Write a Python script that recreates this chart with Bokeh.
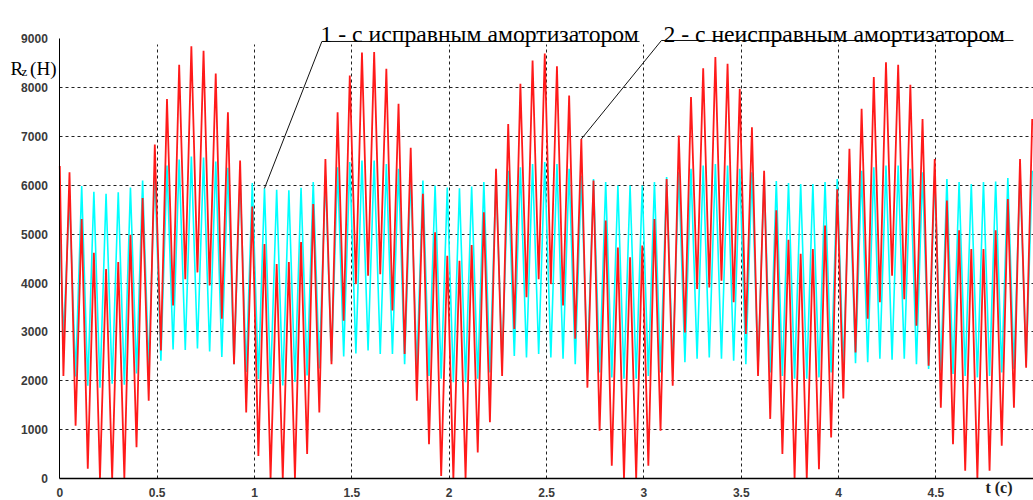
import numpy as np
from bokeh.plotting import figure
from bokeh.models import Range1d, FixedTicker, Label
from bokeh.embed import file_html
from bokeh.resources import INLINE

# ---- data (extremes of each oscillation cycle) ----
period = 0.06259          # s, one wheel-hop cycle
first_trough = 0.0185     # s

red_start = 6400
red_troughs = [2100, 1080, 200, 0, 0, 0, 640, 1590, 2620, 3540, 4080, 4220, 3950,
               3270, 2340, 1350, 460, 0, 0, 0, 500, 1350, 2340, 3230, 3980, 4150,
               4180, 3440, 2550, 1590, 700, 50, 0, 0, 530, 1150, 2100, 3060, 3710,
               4080, 3980, 3540, 2860, 1860, 980, 260, 0, 0, 260, 980, 1900, 2990,
               3880, 3910, 4050, 3610, 2960, 2100, 1220, 500, 0, 0, 190, 840, 1640,
               2580, 3270, 3610, 4150, 3670, 3130, 2310, 1450, 700, 160, 0, 160, 670, 1450, 2270]
red_peaks = [6270, 5310, 4620, 4290, 4430, 4990, 5740, 6840, 7770, 8470, 8850, 8760, 8290,
             7500, 6510, 5570, 4800, 4390, 4430, 4840, 5620, 6540, 7500, 8250, 8720, 8730,
             8390, 7670, 6770, 5830, 5040, 4560, 4460, 4780, 5450, 6340, 7260, 8080, 8560,
             8700, 8440, 7840, 6950, 6100, 5280, 4730, 4530, 4770, 5310, 6130, 7020, 7810,
             8400, 8630, 8490, 7980, 7190, 6300, 5490, 4890, 4600, 4700, 5180, 5920, 6750,
             7570, 8220, 8520, 8470, 8060, 7360, 6540, 5690, 5080, 4700, 4700, 5080, 5720, 6540, 7360]

cyan_start = 5200
cyan_troughs = [2870, 2090, 1900, 1860, 1940, 1920, 2150, 2250, 2410, 2640, 2630, 2660, 2600,
                2490, 2340, 2180, 2030, 1935, 1905, 1975, 2110, 2250, 2400, 2500, 2560, 2620,
                2550, 2550, 2340, 2240, 2100, 2040, 1970, 1970, 2040, 2170, 2340, 2510, 2480,
                2550, 2480, 2450, 2340, 2240, 2170, 2070, 2040, 2040, 2100, 2170, 2310, 2380,
                2450, 2480, 2450, 2410, 2340, 2240, 2170, 2100, 2040, 2040, 2070, 2170, 2270,
                2360, 2380, 2450, 2430, 2450, 2340, 2240, 2210, 2140, 2100, 2070, 2100, 2170, 2240, 2310]
cyan_peaks = [5750, 5990, 5870, 5830, 5860, 5960, 6100, 6280, 6410, 6530, 6590, 6570, 6490,
              6360, 6160, 6050, 5940, 5910, 5900, 5950, 6070, 6200, 6370, 6480, 6510, 6510,
              6440, 6340, 6200, 6100, 6000, 5960, 5940, 5980, 6070, 6200, 6300, 6370, 6440,
              6480, 6440, 6340, 6200, 6130, 6070, 6000, 6000, 6000, 6070, 6170, 6270, 6340,
              6410, 6440, 6410, 6340, 6270, 6200, 6090, 6050, 6030, 6030, 6070, 6130, 6220,
              6300, 6370, 6410, 6410, 6340, 6270, 6200, 6130, 6070, 6030, 6070, 6080, 6150, 6270, 6300]

x_ticks = [0, 0.5, 1, 1.5, 2, 2.5, 3, 3.5, 4, 4.5]
y_ticks = [0, 1000, 2000, 3000, 4000, 5000, 6000, 7000, 8000, 9000]

label_1 = "1 - с исправным амортизатором"
label_2 = "2 - с неисправным амортизатором"

# ---- build series -----------------------------------------------------
n = len(red_peaks)
t_tr = first_trough + period * np.arange(n)
t_pk = t_tr + period / 2


def series(start, troughs, peaks):
    xs, ys = [0.0], [start]
    for i in range(n):
        xs += [t_tr[i], t_pk[i]]
        ys += [troughs[i], peaks[i]]
    return xs, ys


cx, cy = series(cyan_start, cyan_troughs, cyan_peaks)
rx, ry = series(red_start, red_troughs, red_peaks)

W, H = 1033, 500
X0, X1 = -0.3046, 5.001
Y0, Y1 = -451, 9787
p = figure(width=W, height=H, output_backend="svg", toolbar_location=None,
           x_range=Range1d(X0, X1), y_range=Range1d(Y0, Y1),
           min_border_left=0, min_border_right=0, min_border_top=0, min_border_bottom=0)
p.outline_line_color = None
p.background_fill_color = "white"
p.border_fill_color = "white"

p.xaxis.fixed_location = 0
p.yaxis.fixed_location = 0
p.xaxis.bounds = (0, X1)
p.yaxis.bounds = (0, 9000)

p.xaxis.ticker = FixedTicker(ticks=x_ticks)
p.yaxis.ticker = FixedTicker(ticks=y_ticks)
p.xgrid.ticker = FixedTicker(ticks=x_ticks[1:])
p.ygrid.ticker = FixedTicker(ticks=y_ticks[1:-1])
p.xgrid.bounds = (0, X1)
p.ygrid.bounds = (0, 9000)
try:
    p.xgrid.cross_bounds = (0, 8890)
    p.ygrid.cross_bounds = (0, X1)
except Exception:
    pass
for g in (p.xgrid, p.ygrid):
    g.grid_line_color = "#222222"
    g.grid_line_dash = "3 3"
    g.grid_line_width = 1

for ax in (p.xaxis, p.yaxis):
    ax.major_tick_line_color = None
    ax.minor_tick_line_color = None
    ax.axis_line_color = "black"
    ax.major_label_text_font = "Liberation Sans"
    ax.major_label_text_font_style = "bold"
    ax.major_label_text_font_size = "12px"
    ax.major_label_text_color = "#3a3a3a"
p.xaxis.axis_line_width = 1.6
p.yaxis.axis_line_width = 1
p.yaxis.major_label_standoff = 6
p.xaxis.major_label_standoff = 4

p.line(cx, cy, line_color="#00ffff", line_width=1.6)
p.line(rx, ry, line_color="#ff1a1a", line_width=1.8)

# leader lines pointing at the two curves
k1, k2 = 16, 42
p.line([t_pk[k1], 1.346, 2.978], [cyan_peaks[k1], 8948, 8948], line_color="#111111", line_width=1)
p.line([t_pk[k2], 3.09, 4.898], [red_peaks[k2], 8968, 8968], line_color="#111111", line_width=1)

serif = "Liberation Serif"
p.add_layout(Label(x=1.339, y=9100, text=label_1, text_font=serif, text_font_size="23.7px",
                   text_color="black", text_baseline="alphabetic"))
p.add_layout(Label(x=3.100, y=9100, text=label_2, text_font=serif, text_font_size="23.7px",
                   text_color="black", text_baseline="alphabetic"))

p.add_layout(Label(x=-0.2532, y=8390, text="R", text_font=serif, text_font_size="19px",
                   text_color="black", text_baseline="alphabetic"))
p.add_layout(Label(x=-0.1967, y=8333, text="z", text_font=serif, text_font_size="13px",
                   text_color="black", text_baseline="alphabetic"))
p.add_layout(Label(x=-0.1525, y=8390, text="(H)", text_font=serif, text_font_size="19px",
                   text_color="black", text_baseline="alphabetic"))
p.add_layout(Label(x=4.754, y=-190, text="t (c)", text_font=serif, text_font_size="16px",
                   text_font_style="bold", text_color="#222222", text_baseline="alphabetic"))

open("out.html", "w").write(file_html(p, INLINE))
